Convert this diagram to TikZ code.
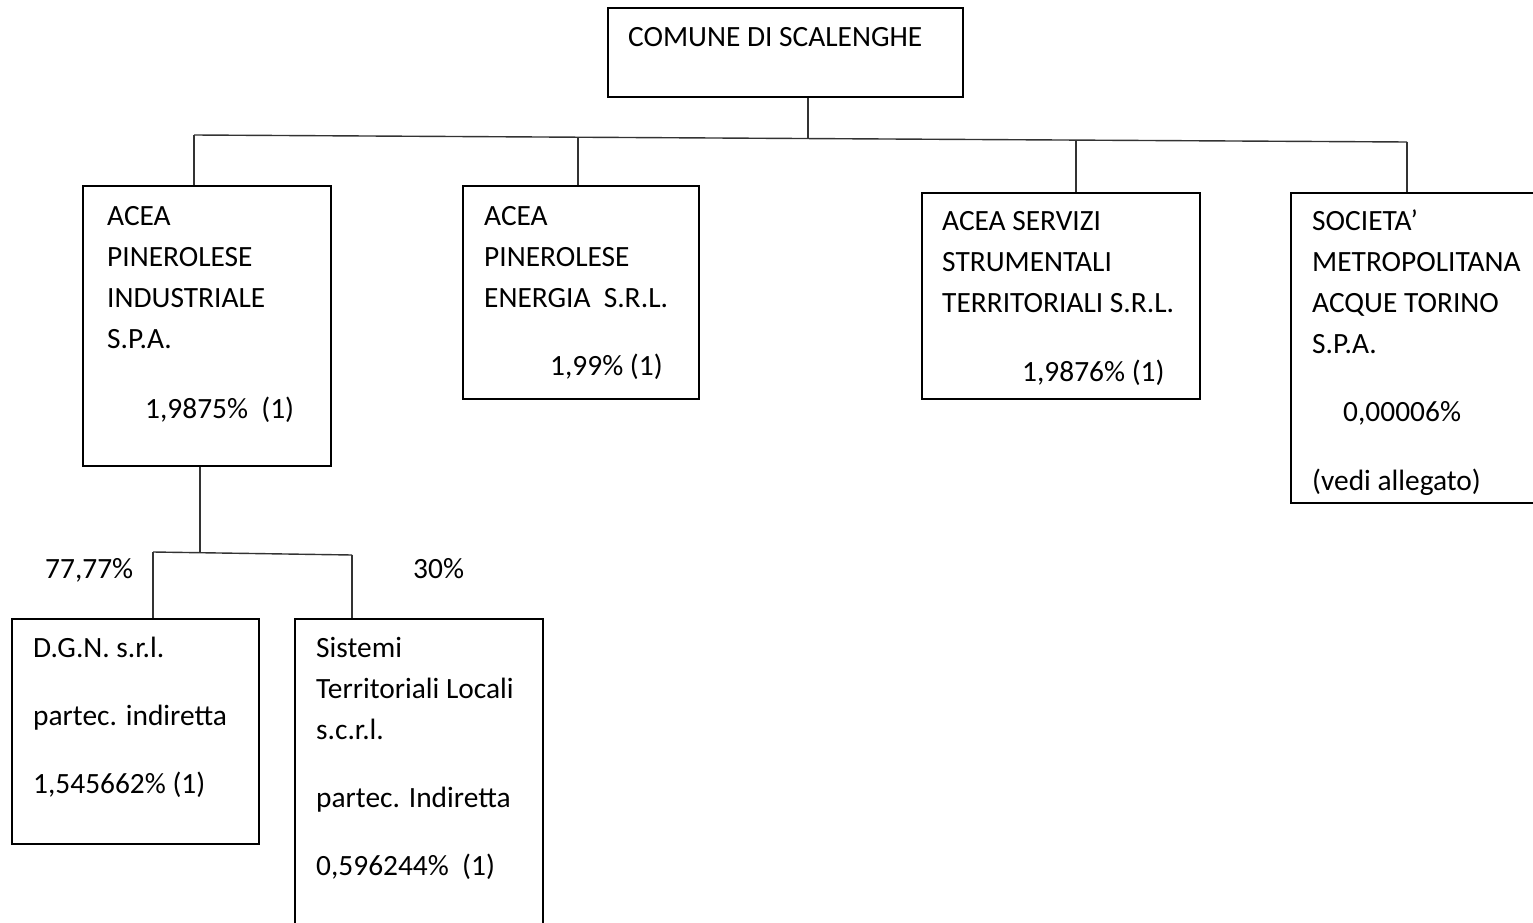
\documentclass[tikz,border=0pt]{standalone}
\usepackage{fontspec}
\setmainfont{Carlito}
\begin{document}
\begin{tikzpicture}[x=1pt,y=-1pt,
  box/.style={draw=black, line width=2.4pt, rectangle, inner sep=0pt, anchor=north west},
  txt/.style={anchor=base west, inner sep=0pt, font=\fontsize{29.4}{41}\selectfont, text=black},
  conn/.style={draw=black!80, line width=1.4pt}]
\clip (0,0) rectangle (1533,923);
\fill[white] (0,0) rectangle (1533,923);
% boxes
\node[box, minimum width=355, minimum height=89] (comune) at (607,7) {};
\node[box, minimum width=248, minimum height=280] (b1) at (82,185) {};
\node[box, minimum width=236, minimum height=213] (b2) at (462,185) {};
\node[box, minimum width=278, minimum height=206] (b3) at (921,192) {};
\node[box, minimum width=260, minimum height=310] (b4) at (1290,192) {};
\node[box, minimum width=247, minimum height=225] (b5) at (11,618) {};
\node[box, minimum width=248, minimum height=320] (b6) at (294,618) {};
% texts
\node[txt] (t0) at (628,47) {COMUNE DI SCALENGHE};
\node[txt] (t1a) at (107,225) {ACEA};
\node[txt] (t1b) at (107,266) {PINEROLESE};
\node[txt] (t1c) at (107,307) {INDUSTRIALE};
\node[txt] (t1d) at (107,348) {S.P.A.};
\node[txt] (t1e) at (145,418) {1,9875\%\ \ (1)};
\node[txt] (t2a) at (484,225) {ACEA};
\node[txt] (t2b) at (484,266) {PINEROLESE};
\node[txt] (t2c) at (484,307) {ENERGIA\ \ S.R.L.};
\node[txt] (t2d) at (550,375) {1,99\% (1)};
\node[txt] (t3a) at (942,230) {ACEA SERVIZI};
\node[txt] (t3b) at (942,271) {STRUMENTALI};
\node[txt] (t3c) at (942,312) {TERRITORIALI S.R.L.};
\node[txt] (t3d) at (1022,381) {1,9876\% (1)};
\node[txt] (t4a) at (1312,230) {SOCIETA’};
\node[txt] (t4b) at (1312,271) {METROPOLITANA};
\node[txt] (t4c) at (1312,312) {ACQUE TORINO};
\node[txt] (t4d) at (1312,353) {S.P.A.};
\node[txt] (t4e) at (1343,421) {0,00006\%};
\node[txt] (t4f) at (1312,490) {(vedi allegato)};
\node[txt] (p1) at (45,578) {77,77\%};
\node[txt] (p2) at (413,578) {30\%};
\node[txt] (t5a) at (33,657) {D.G.N. s.r.l.};
\node[txt] (t5b) at (33,725) {partec. indiretta};
\node[txt] (t5c) at (33,793) {1,545662\% (1)};
\node[txt] (t6a) at (316,657) {Sistemi};
\node[txt] (t6b) at (316,698) {Territoriali Locali};
\node[txt] (t6c) at (316,739) {s.c.r.l.};
\node[txt] (t6d) at (316,807) {partec. Indiretta};
\node[txt] (t6e) at (316,875) {0,596244\%\ \ (1)};
% main bus
\coordinate (busL) at (194,135);
\coordinate (busR) at (1407,142);
\coordinate (busC) at (808,138.5);
\coordinate (bus2) at (578,137.2);
\coordinate (bus3) at (1076,140.1);
\draw[conn] (busL) -- (busR);
\draw[conn] (comune.south -| busC) -- (busC);
\draw[conn] (busL) -- (busL |- b1.north);
\draw[conn] (bus2) -- (bus2 |- b2.north);
\draw[conn] (bus3) -- (bus3 |- b3.north);
\draw[conn] (busR) -- (busR |- b4.north);
% sub bus
\coordinate (sL) at (153,552);
\coordinate (sR) at (352,555);
\coordinate (sC) at (200,552.7);
\draw[conn] (sL) -- (sR);
\draw[conn] (b1.south -| sC) -- (sC);
\draw[conn] (sL) -- (sL |- b5.north);
\draw[conn] (sR) -- (sR |- b6.north);
\end{tikzpicture}
\end{document}
